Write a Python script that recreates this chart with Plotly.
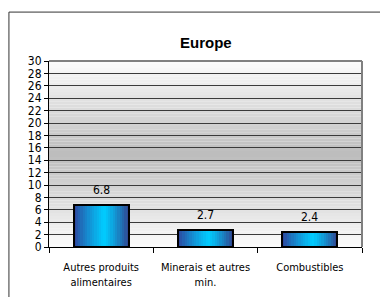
import plotly.graph_objects as go

categories = ["Autres produits<br>alimentaires", "Minerais et autres<br>min.", "Combustibles"]
values = [6.8, 2.7, 2.4]
value_labels = ["6.8", "2.7", "2.4"]
title = "Europe"
y_max = 30
y_step = 2

FONT = "Liberation Sans Narrow, Arial Narrow, DejaVu Sans Condensed, sans-serif"
bar_w = 0.53
n_strips = 24

def lerp(c1, c2, t):
    return tuple(round(a + (b - a) * t) for a, b in zip(c1, c2))

edge_l = (48, 60, 150)
edge_r = (50, 64, 140)
mid = (0, 204, 255)
peak = 0.55

fig = go.Figure()
for i in range(n_strips):
    pos = (i + 0.5) / n_strips
    if pos < peak:
        t = pos / peak
        c = lerp(edge_l, mid, t ** 0.8)
    else:
        t = (pos - peak) / (1 - peak)
        c = lerp(mid, edge_r, t ** 1.2)
    fig.add_trace(go.Bar(
        x=categories, y=values, width=bar_w / n_strips + 0.004,
        offset=-bar_w / 2 + i * bar_w / n_strips,
        marker=dict(color="rgb(%d,%d,%d)" % c, line=dict(width=0)),
        hoverinfo="skip", showlegend=False,
    ))
fig.add_trace(go.Bar(
    x=categories, y=values, width=bar_w, offset=-bar_w / 2,
    marker=dict(color="rgba(0,0,0,0)", line=dict(color="#000000", width=2)),
    showlegend=False,
))

# background vertical gradient bands
shapes = []
n_bands = 60
for k in range(n_bands):
    y0 = y_max * k / n_bands
    y1 = y_max * (k + 1) / n_bands
    v = (y0 + y1) / 2
    d = 1 - abs(v - 15) / 15
    g = round(252 - 64 * d)
    shapes.append(dict(type="rect", xref="paper", yref="y", x0=0, x1=1, y0=y0, y1=y1,
                       fillcolor="rgb(%d,%d,%d)" % (g, g, g), line=dict(width=0), layer="below"))
# plot-area top/right border
shapes.append(dict(type="line", xref="paper", yref="paper", x0=0, x1=1, y0=1, y1=1,
                   line=dict(color="#808080", width=2)))
shapes.append(dict(type="line", xref="paper", yref="paper", x0=1, x1=1, y0=0, y1=1,
                   line=dict(color="#808080", width=2)))
# outer chart frame
shapes.append(dict(type="rect", xref="paper", yref="paper", x0=-0.128, x1=2, y0=-1, y1=1.263,
                   line=dict(color="#333333", width=1), fillcolor="rgba(0,0,0,0)"))

annotations = [dict(x=c, y=v, text=t, showarrow=False, yanchor="middle", yshift=15,
                    font=dict(family=FONT, size=12, color="#000000"))
               for c, v, t in zip(categories, values, value_labels)]
annotations.append(dict(x=0.5, y=1.102, xref="paper", yref="paper", text="<b>%s</b>" % title,
                        showarrow=False, yanchor="middle",
                        font=dict(family="Liberation Sans, Arial, sans-serif", size=15, color="#000000")))

fig.update_layout(
    width=388, height=297,
    margin=dict(l=41, r=34, t=53, b=58, autoexpand=False),
    paper_bgcolor="white", plot_bgcolor="white",
    barmode="overlay", bargap=0,
    shapes=shapes, annotations=annotations,
    font=dict(family=FONT, size=12, color="#000000"),
    xaxis=dict(showline=True, linecolor="#000000", linewidth=1, ticks="outside",
               tickson="boundaries", ticklen=5, tickcolor="#000000", tickangle=0,
               showgrid=False, ticklabelstandoff=10, fixedrange=True, automargin=False,
               tickfont=dict(size=11)),
    yaxis=dict(range=[0, y_max], dtick=y_step, showline=True, linecolor="#000000", linewidth=1,
               ticks="outside", ticklen=4, tickcolor="#000000", showgrid=True,
               gridcolor="#3a3a3a", gridwidth=1, zeroline=False, fixedrange=True,
               automargin=False, tickfont=dict(size=12)),
)

fig.write_html("out.html")
